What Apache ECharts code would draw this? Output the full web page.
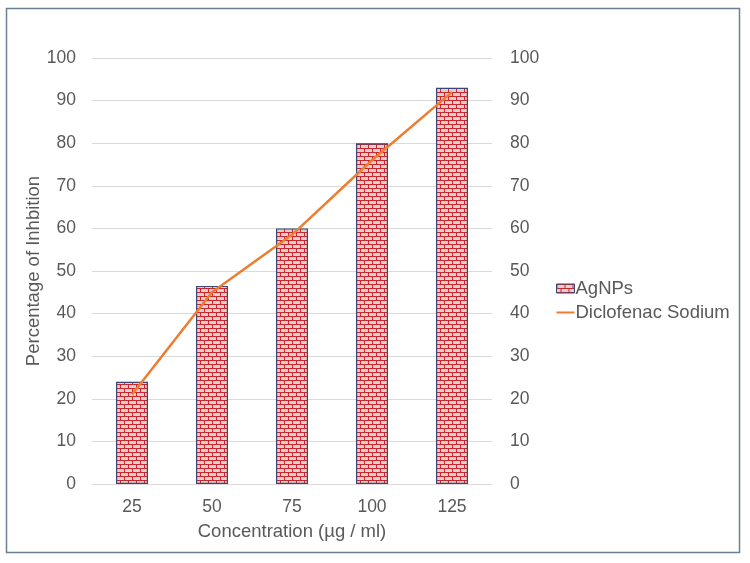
<!DOCTYPE html>
<html><head><meta charset="utf-8">
<script src="https://cdn.jsdelivr.net/npm/echarts@6/dist/echarts.min.js"></script>
<style>html,body{margin:0;padding:0;background:#fff}#c{width:750px;height:563px}</style>
</head><body><div id="c"></div>
<script>
const categories = ['25', '50', '75', '100', '125'];
const agnps = [24, 46.5, 60, 80, 93];
const diclofenac = [21, 45, 58.5, 76, 92];

// brick pattern
function brick() {
  const pc = document.createElement('canvas');
  pc.width = 8; pc.height = 8;
  const g = pc.getContext('2d');
  g.fillStyle = '#ddd0d0'; g.fillRect(0, 0, 8, 8);
  g.fillStyle = '#c8282e';
  g.fillRect(0, 0, 8, 1);
  g.fillRect(0, 4, 8, 1);
  g.fillRect(0, 0, 1, 4);
  g.fillRect(4, 4, 1, 4);
  return pc;
}
const pc = brick();

const chart = echarts.init(document.getElementById('c'), null, {renderer: 'canvas'});
const font = 'Liberation Sans, Arial, sans-serif';
chart.setOption({
  animation: false,
  textStyle: {fontFamily: font},
  grid: {left: 92, right: 258, top: 58, bottom: 79},
  xAxis: {
    type: 'category', data: categories,
    axisLine: {lineStyle: {color: '#d9d9d9'}},
    axisTick: {show: false},
    axisLabel: {color: '#595959', fontSize: 17.5, margin: 14},
    name: 'Concentration (µg / ml)', nameLocation: 'middle', nameGap: 38,
    nameTextStyle: {color: '#595959', fontSize: 18.5}
  },
  yAxis: [{
    type: 'value', min: 0, max: 100, interval: 10,
    axisLine: {show: false}, axisTick: {show: false},
    splitLine: {lineStyle: {color: '#d9d9d9'}},
    axisLabel: {color: '#595959', fontSize: 17.5, margin: 16},
    name: 'Percentage of Inhbition', nameLocation: 'middle', nameGap: 49,
    nameMoveOverlap: false,
    nameTextStyle: {color: '#595959', fontSize: 18.5}
  }, {
    type: 'value', min: 0, max: 100, interval: 10, position: 'right',
    axisLine: {show: false}, axisTick: {show: false}, splitLine: {show: false},
    axisLabel: {color: '#595959', fontSize: 17.5, margin: 18}
  }],
  legend: {
    orient: 'vertical', left: 551, top: 274, itemGap: 5,
    itemWidth: 18, itemHeight: 9,
    textStyle: {color: '#595959', fontSize: 18.5, padding: [0,0,0,-4]},
    data: [
      {name: 'AgNPs', icon: 'rect', itemStyle: {color: {image: pc, repeat: 'repeat'}, borderColor: '#3a4673', borderWidth: 1}},
      {name: 'Diclofenac Sodium', icon: 'path://M0,4L18,4L18,6L0,6Z', itemStyle: {color: '#ed7d31', borderWidth: 0}}
    ]
  },
  series: [{
    name: 'AgNPs', type: 'bar', data: agnps, barWidth: 32, yAxisIndex: 0,
    itemStyle: {color: {image: pc, repeat: 'repeat'}, borderColor: '#3a4673', borderWidth: 1.2}
  }, {
    name: 'Diclofenac Sodium', type: 'line', data: diclofenac, yAxisIndex: 1,
    symbol: 'none', lineStyle: {color: '#ed7d31', width: 2.5},
    itemStyle: {color: '#ed7d31'}
  }],
  graphic: [{
    type: 'rect', shape: {x: 6.5, y: 8.5, width: 733, height: 544},
    style: {fill: 'none', stroke: '#6b7f95', lineWidth: 1.5}, silent: true
  }]
});
</script></body></html>
